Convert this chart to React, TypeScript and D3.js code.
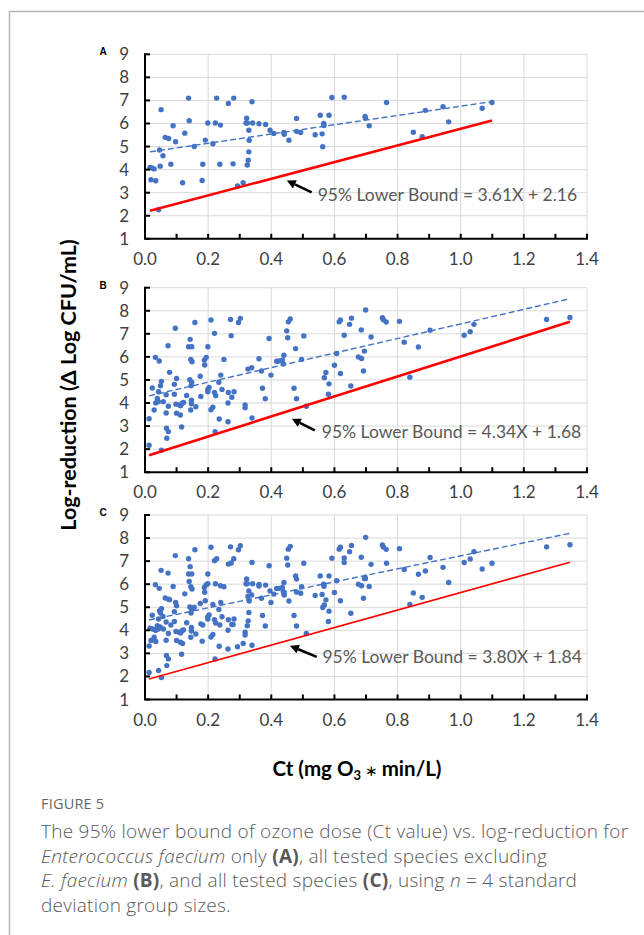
import React from 'react';
import * as d3 from 'd3';

// ---------- data ----------
const xTickValues = [0, 0.2, 0.4, 0.6, 0.8, 1.0, 1.2, 1.4];
const yTickValues = [1, 2, 3, 4, 5, 6, 7, 8, 9];
const panelLetters = ['A', 'B', 'C'];
const boundSlopes = [3.61, 4.34, 3.80];
const boundIntercepts = [2.16, 1.68, 1.84];
const trendSlopes = [2.01, 3.16, 2.82];
const trendIntercepts = [4.74, 4.27, 4.41];

// Panel A: Enterococcus faecium only
const aX = [0.016, 0.022, 0.029, 0.019, 0.034, 0.043, 0.046, 0.048, 0.051, 0.057, 0.064, 0.075, 0.082, 0.089, 0.097,
  0.119, 0.126, 0.138, 0.140, 0.156, 0.181, 0.183, 0.191, 0.199, 0.215, 0.223, 0.227, 0.237, 0.239, 0.264, 0.279,
  0.281, 0.293, 0.311, 0.320, 0.322, 0.324, 0.324, 0.327, 0.329, 0.329, 0.330, 0.339, 0.341, 0.361, 0.382, 0.396,
  0.408, 0.440, 0.441, 0.456, 0.480, 0.480, 0.493, 0.539, 0.555, 0.561, 0.563, 0.566, 0.567, 0.583, 0.592, 0.631,
  0.697, 0.698, 0.710, 0.765, 0.850, 0.878, 0.888, 0.944, 0.962, 1.068, 1.099];
const aY = [4.09, 4.07, 4.03, 3.56, 3.52, 2.26, 4.85, 4.15, 6.60, 4.60, 5.40, 5.35, 4.23, 5.90, 5.21,
  3.43, 5.58, 7.10, 6.12, 5.00, 3.53, 4.23, 5.28, 6.02, 5.12, 6.02, 7.10, 4.23, 5.93, 6.87, 4.25,
  7.10, 3.29, 3.43, 6.02, 6.23, 6.02, 4.20, 4.41, 4.77, 5.71, 5.27, 6.94, 6.02, 5.99, 5.96, 5.71,
  5.57, 5.61, 5.53, 5.27, 6.22, 5.66, 5.61, 5.51, 6.36, 5.55, 4.99, 6.00, 5.91, 6.36, 7.13, 7.14,
  6.30, 6.24, 5.90, 6.91, 5.62, 5.43, 6.57, 6.73, 6.07, 6.66, 6.91];

// Panel B: all tested species excluding E. faecium
const bX = [0.013, 0.013, 0.023, 0.029, 0.033, 0.034, 0.039, 0.042, 0.043, 0.045, 0.049, 0.052, 0.052, 0.058, 0.067,
  0.067, 0.068, 0.069, 0.073, 0.074, 0.074, 0.078, 0.093, 0.093, 0.096, 0.098, 0.100, 0.100, 0.108, 0.112, 0.113,
  0.116, 0.118, 0.122, 0.132, 0.138, 0.142, 0.143, 0.145, 0.145, 0.146, 0.147, 0.147, 0.148, 0.148, 0.149, 0.158,
  0.161, 0.175, 0.177, 0.188, 0.189, 0.194, 0.199, 0.199, 0.199, 0.203, 0.209, 0.209, 0.215, 0.220, 0.220, 0.222,
  0.224, 0.234, 0.235, 0.240, 0.244, 0.250, 0.263, 0.263, 0.264, 0.271, 0.273, 0.275, 0.282, 0.296, 0.302, 0.317,
  0.317, 0.326, 0.338, 0.339, 0.361, 0.369, 0.372, 0.381, 0.393, 0.399, 0.417, 0.424, 0.435, 0.438, 0.440, 0.449,
  0.452, 0.454, 0.460, 0.472, 0.477, 0.480, 0.496, 0.503, 0.511, 0.568, 0.573, 0.581, 0.583, 0.600, 0.607, 0.615,
  0.619, 0.619, 0.631, 0.648, 0.652, 0.654, 0.676, 0.685, 0.686, 0.692, 0.695, 0.699, 0.716, 0.752, 0.755, 0.764,
  0.806, 0.821, 0.839, 0.866, 0.903, 1.011, 1.030, 1.042, 1.272, 1.346];
const bY = [2.17, 3.32, 4.65, 3.70, 5.98, 4.00, 4.20, 4.06, 4.49, 5.82, 4.75, 4.94, 1.95, 4.06, 4.36,
  3.57, 2.91, 2.47, 6.48, 2.76, 3.86, 5.33, 4.81, 4.38, 7.24, 3.95, 5.06, 3.56, 3.92, 3.48, 3.88,
  2.96, 3.99, 4.02, 4.33, 6.44, 5.01, 6.76, 5.89, 3.70, 4.75, 4.12, 3.97, 6.44, 4.90, 5.79, 7.49,
  3.84, 5.16, 4.28, 5.86, 5.65, 5.98, 6.44, 4.59, 4.49, 4.67, 7.60, 3.71, 3.82, 7.02, 4.46, 2.76,
  4.32, 4.90, 3.31, 5.21, 4.59, 5.89, 3.19, 4.00, 4.46, 7.62, 6.92, 4.25, 4.49, 7.49, 7.67, 3.92,
  3.80, 5.47, 5.53, 3.35, 5.92, 5.39, 4.64, 4.19, 6.80, 5.21, 5.81, 5.82, 5.86, 5.69, 6.07, 7.13,
  6.83, 7.52, 7.64, 4.64, 6.36, 4.19, 5.89, 6.91, 3.86, 5.10, 5.32, 4.38, 4.83, 5.64, 6.15, 7.52,
  7.60, 5.28, 6.94, 7.41, 4.74, 7.68, 6.00, 7.17, 5.93, 5.39, 6.25, 8.03, 6.86, 7.70, 7.61, 7.51,
  7.54, 6.64, 5.12, 6.43, 7.16, 6.94, 7.09, 7.41, 7.62, 7.71];

// Panel C: all tested species = A + B
const cX = [...aX, ...bX];
const cY = [...aY, ...bY];

const panelXs = [aX, bX, cX];
const panelYs = [aY, bY, cY];

// ---------- layout ----------
const W = 644;
const H = 935;
const plotLeft = 145;
const plotRight = 587;
const panelTops = [54.3, 287.7, 515];
const panelHeight = 184.5;
const BLUE = '#4472C4';
const FONT = 'Lato, Carlito, "Open Sans", sans-serif';
const annot = [
  { tipX: 0.449, tipY: 3.53, tailX: 0.528, tailY: 3.01, textX: 0.547, textY: 2.65 },
  { tipX: 0.465, tipY: 3.32, tailX: 0.538, tailY: 2.81, textX: 0.560, textY: 2.48 },
  { tipX: 0.459, tipY: 3.33, tailX: 0.544, tailY: 2.85, textX: 0.562, textY: 2.58 },
];
const redWidths = [2.6, 2.6, 1.6];

function Panel({ idx }: { idx: number }) {
  const top = panelTops[idx];
  const bottom = top + panelHeight;
  const x = d3.scaleLinear().domain([0, 1.4]).range([plotLeft, plotRight]);
  const y = d3.scaleLinear().domain([1, 9]).range([bottom, top]);
  const xs = panelXs[idx];
  const ys = panelYs[idx];
  const [xmin, xmax] = d3.extent(xs) as [number, number];
  const bound = (v: number) => boundSlopes[idx] * v + boundIntercepts[idx];
  const trend = (v: number) => trendSlopes[idx] * v + trendIntercepts[idx];
  const redPath = d3.line<number>().x((d) => x(d)).y((d) => y(bound(d)))([xmin, xmax]) || '';
  const bluePath = d3.line<number>().x((d) => x(d)).y((d) => y(trend(d)))([xmin, xmax]) || '';
  const minorTicks = d3.range(1, 15).map((i) => i / 10);
  const a = annot[idx];
  const tipX = x(a.tipX), tipY = y(a.tipY), tailX = x(a.tailX), tailY = y(a.tailY);
  const ang = Math.atan2(tipY - tailY, tipX - tailX);
  const hl = 9, hw = 4.5;
  const bx = tipX - hl * Math.cos(ang), by = tipY - hl * Math.sin(ang);
  const head = `M${tipX},${tipY} L${bx + hw * Math.sin(ang)},${by - hw * Math.cos(ang)} L${bx - hw * Math.sin(ang)},${by + hw * Math.cos(ang)} Z`;
  const label = `95% Lower Bound = ${boundSlopes[idx].toFixed(2)}X + ${boundIntercepts[idx].toFixed(2)}`;
  return (
    <g>
      {yTickValues.slice(1).map((t) => (
        <line key={'h' + t} x1={plotLeft} x2={plotRight} y1={y(t)} y2={y(t)} stroke="#d9d9d9" strokeWidth={1} />
      ))}
      {xTickValues.slice(1).map((t) => (
        <line key={'v' + t} x1={x(t)} x2={x(t)} y1={top} y2={bottom} stroke="#d9d9d9" strokeWidth={1} />
      ))}
      <path d={bluePath} stroke={BLUE} strokeWidth={1.4} strokeDasharray="6,3" fill="none" />
      {xs.map((v, i) => (
        <circle key={i} cx={x(v)} cy={y(ys[i])} r={2.7} fill={BLUE} />
      ))}
      <path d={redPath} stroke="#FF0000" strokeWidth={redWidths[idx]} fill="none" />
      <line x1={plotLeft} x2={plotLeft} y1={top - 1} y2={bottom} stroke="#000" strokeWidth={2} />
      <line x1={plotLeft - 1} x2={plotRight + 1} y1={bottom} y2={bottom} stroke="#000" strokeWidth={2} />
      {yTickValues.map((t) => (
        <line key={'yt' + t} x1={plotLeft} x2={plotLeft + 5} y1={y(t)} y2={y(t)} stroke="#000" strokeWidth={2} />
      ))}
      {minorTicks.map((t) => (
        <line key={'xt' + t} x1={x(t)} x2={x(t)} y1={bottom} y2={bottom - 5} stroke="#000" strokeWidth={2} />
      ))}
      {yTickValues.map((t) => (
        <text key={'yl' + t} x={plotLeft - 16} y={y(t) + 6} textAnchor="end" fontFamily={FONT} fontSize={17} fill="#404040">
          {t}
        </text>
      ))}
      {xTickValues.map((t) => (
        <text key={'xl' + t} x={x(t)} y={bottom + 26} textAnchor="middle" fontFamily={FONT} fontSize={17} fill="#404040">
          {t.toFixed(1)}
        </text>
      ))}
      <text x={103} y={top + 1} textAnchor="middle" fontFamily="Arial, 'Liberation Sans', sans-serif" fontWeight="bold" fontSize={10} fill="#000">
        {panelLetters[idx]}
      </text>
      <line x1={tailX} y1={tailY} x2={bx} y2={by} stroke="#000" strokeWidth={2.6} />
      <path d={head} fill="#000" />
      <text x={x(a.textX)} y={y(a.textY)} fontFamily={FONT} fontSize={17.5} fill="#595959">
        {label}
      </text>
    </g>
  );
}

export default function App() {
  const capFont = '"Open Sans", "Noto Sans", sans-serif';
  const capColor = '#595959';
  const capX = 41;
  return (
    <svg width={W} height={H} viewBox={`0 0 ${W} ${H}`} style={{ position: 'absolute', left: 0, top: 0, background: '#fff' }}>
      <rect x={0} y={0} width={W} height={H} fill="#fff" />
      <line x1={9.5} x2={9.5} y1={11} y2={H} stroke="#b5b5b5" strokeWidth={1.5} />
      <line x1={9} x2={W} y1={11.5} y2={11.5} stroke="#b5b5b5" strokeWidth={1.5} />
      {[0, 1, 2].map((i) => (
        <Panel key={i} idx={i} />
      ))}
      <text
        transform="translate(76,385) rotate(-90)"
        textAnchor="middle"
        fontFamily={FONT}
        fontWeight="bold"
        fontSize={21.5}
        fill="#000"
      >
        Log-reduction (Δ Log CFU/mL)
      </text>
      <text x={357} y={776} textAnchor="middle" fontFamily={FONT} fontWeight="bold" fontSize={20.5} fill="#000">
        Ct (mg O<tspan fontSize={13} dy={4}>3</tspan>
        <tspan dy={-4} fontWeight="normal" fontSize={15}> ∗ </tspan>
        <tspan>min/L)</tspan>
      </text>
      <text x={capX} y={809} fontFamily={capFont} fontSize={14.5} fill="#666" letterSpacing={0.2}>
        FIGURE 5
      </text>
      <text fontFamily={capFont} fontSize={19} fill={capColor} fontWeight={300} letterSpacing={0.25}>
        <tspan x={capX} y={838}>The 95% lower bound of ozone dose (Ct value) vs. log-reduction for</tspan>
        <tspan x={capX} y={862.5}>
          <tspan fontStyle="italic">Enterococcus faecium</tspan> only <tspan fontWeight="bold">(A)</tspan>, all tested species excluding
        </tspan>
        <tspan x={capX} y={887}>
          <tspan fontStyle="italic">E. faecium</tspan> <tspan fontWeight="bold">(B)</tspan>, and all tested species{' '}
          <tspan fontWeight="bold">(C)</tspan>, using <tspan fontStyle="italic">n</tspan> = 4 standard
        </tspan>
        <tspan x={capX} y={911.5}>deviation group sizes.</tspan>
      </text>
    </svg>
  );
}
